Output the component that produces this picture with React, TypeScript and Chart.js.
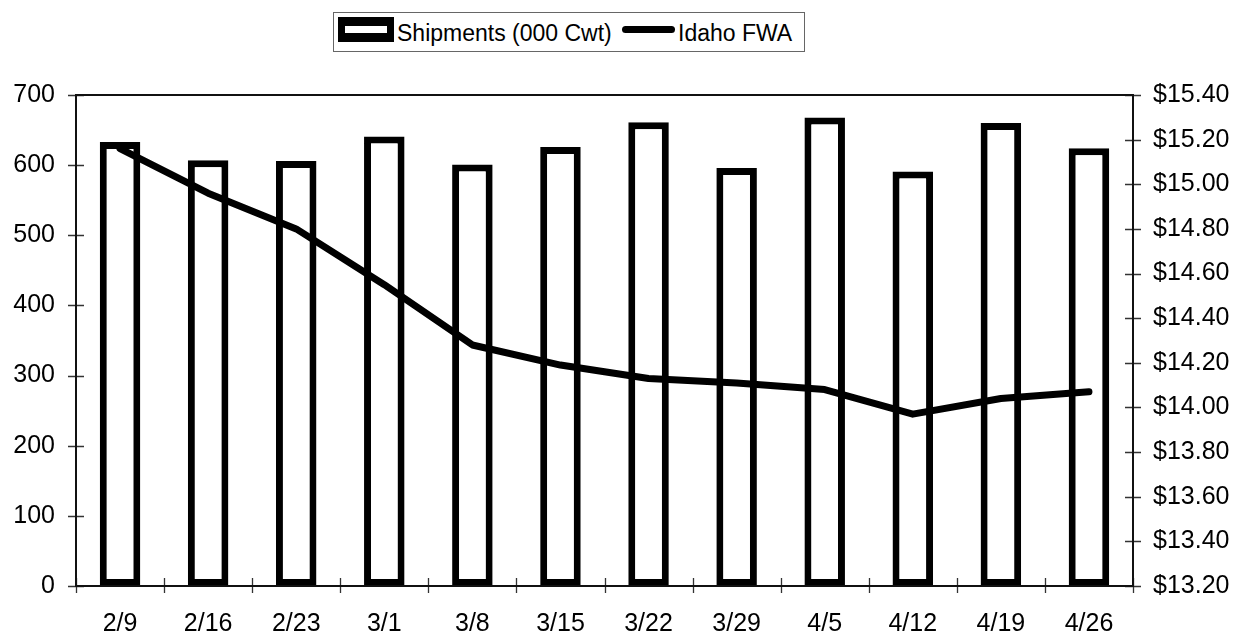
import React, { useEffect, useRef } from "react";
import { Chart, registerables } from "chart.js";

Chart.register(...registerables);

const categories = ["2/9", "2/16", "2/23", "3/1", "3/8", "3/15", "3/22", "3/29", "4/5", "4/12", "4/19", "4/26"];
const shipments = [633, 607, 606, 641, 601, 626, 661, 596, 668, 591, 660, 624];
const idahoFwa = [15.16, 14.96, 14.8, 14.55, 14.28, 14.19, 14.13, 14.11, 14.08, 13.97, 14.04, 14.07];
const leftTicks = { min: 0, max: 700, step: 100 };
const rightTicks = { min: 13.2, max: 15.4, step: 0.2 };
const seriesNames = ["Shipments (000 Cwt)", "Idaho FWA"];

const FONT = "'Liberation Sans', Arial, Helvetica, sans-serif";

const frameTicksPlugin = {
  id: "frameTicks",
  afterDraw(chart: any) {
    const { ctx, chartArea } = chart;
    const { left, right, top, bottom } = chartArea;
    ctx.save();
    ctx.strokeStyle = "#333";
    ctx.lineWidth = 1.3;
    ctx.beginPath();
    const y = chart.scales.y;
    y.ticks.forEach((t: any) => {
      const py = Math.round(y.getPixelForValue(t.value)) + 0.5;
      ctx.moveTo(left - 8, py);
      ctx.lineTo(left + 8, py);
    });
    const y2 = chart.scales.y2;
    y2.ticks.forEach((t: any) => {
      const py = Math.round(y2.getPixelForValue(t.value)) + 0.5;
      ctx.moveTo(right - 8, py);
      ctx.lineTo(right + 8, py);
    });
    const n = categories.length;
    for (let k = 0; k <= n; k++) {
      const px = Math.round(left + ((right - left) * k) / n) + 0.5;
      ctx.moveTo(px, bottom - 8);
      ctx.lineTo(px, bottom + 7);
    }
    ctx.stroke();
    ctx.strokeStyle = "#111";
    ctx.lineWidth = 2;
    ctx.strokeRect(left, top, right - left, bottom - top);
    ctx.restore();
  },
};

export default function App() {
  const canvasRef = useRef<HTMLCanvasElement | null>(null);

  useEffect(() => {
    if (!canvasRef.current) return;
    const chart = new Chart(canvasRef.current, {
      type: "bar",
      data: {
        labels: categories,
        datasets: [
          {
            type: "bar",
            label: seriesNames[0],
            data: shipments,
            yAxisID: "y",
            backgroundColor: "#ffffff",
            borderColor: "#000000",
            borderWidth: 7,
            borderSkipped: false,
            categoryPercentage: 1,
            barPercentage: 0.46,
            order: 1,
          } as any,
          {
            type: "line",
            label: seriesNames[1],
            data: idahoFwa,
            yAxisID: "y2",
            borderColor: "#000000",
            backgroundColor: "#000000",
            borderWidth: 7,
            pointRadius: 0,
            tension: 0,
            borderCapStyle: "round",
            borderJoinStyle: "round",
            order: 0,
          } as any,
        ],
      },
      options: {
        animation: false,
        responsive: true,
        maintainAspectRatio: false,
        layout: { padding: { top: 95, left: 0, right: 0, bottom: 0 } },
        plugins: {
          legend: { display: false },
          tooltip: { enabled: false },
          title: { display: false },
        },
        scales: {
          x: {
            offset: true,
            grid: { display: false, drawTicks: false },
            border: { display: false },
            ticks: {
              color: "#000",
              font: { family: FONT, size: 25 },
              padding: 23,
              maxRotation: 0,
              autoSkip: false,
            },
            afterFit: (s: any) => {
              s.height = 48;
            },
          },
          y: {
            position: "left",
            min: leftTicks.min,
            max: leftTicks.max,
            grid: { display: false, drawTicks: false },
            border: { display: false },
            ticks: {
              stepSize: leftTicks.step,
              color: "#000",
              font: { family: FONT, size: 25 },
              padding: 21,
            },
            afterFit: (s: any) => {
              s.width = 76;
            },
          },
          y2: {
            position: "right",
            min: rightTicks.min,
            max: rightTicks.max,
            grid: { display: false, drawTicks: false },
            border: { display: false },
            ticks: {
              stepSize: rightTicks.step,
              color: "#000",
              font: { family: FONT, size: 25 },
              padding: 20,
              callback: (v: any) => "$" + Number(v).toFixed(2),
            },
            afterFit: (s: any) => {
              s.width = 103;
            },
          },
        },
      },
      plugins: [frameTicksPlugin],
    });
    return () => chart.destroy();
  }, []);

  const textStyle: React.CSSProperties = {
    position: "absolute",
    fontFamily: FONT,
    fontSize: 23,
    lineHeight: "23px",
    color: "#000",
    whiteSpace: "nowrap",
  };

  return (
    <div style={{ position: "absolute", left: 0, top: 0, width: 1236, height: 634, background: "#fff" }}>
      <canvas ref={canvasRef} style={{ position: "absolute", left: 0, top: 0, width: 1236, height: 634 }} />
      <div
        style={{
          position: "absolute",
          left: 333,
          top: 12,
          width: 472,
          height: 40,
          boxSizing: "border-box",
          border: "1.5px solid #666",
          background: "#fff",
        }}
      />
      <div
        style={{
          position: "absolute",
          left: 338,
          top: 17,
          width: 56,
          height: 25,
          boxSizing: "border-box",
          borderStyle: "solid",
          borderColor: "#000",
          borderWidth: "9px 7px",
          background: "#fff",
        }}
      />
      <span style={{ ...textStyle, left: 397, top: 22 }}>{seriesNames[0]}</span>
      <div
        style={{
          position: "absolute",
          left: 622,
          top: 26,
          width: 53,
          height: 7,
          borderRadius: 3.5,
          background: "#000",
        }}
      />
      <span style={{ ...textStyle, left: 678, top: 22 }}>{seriesNames[1]}</span>
    </div>
  );
}
